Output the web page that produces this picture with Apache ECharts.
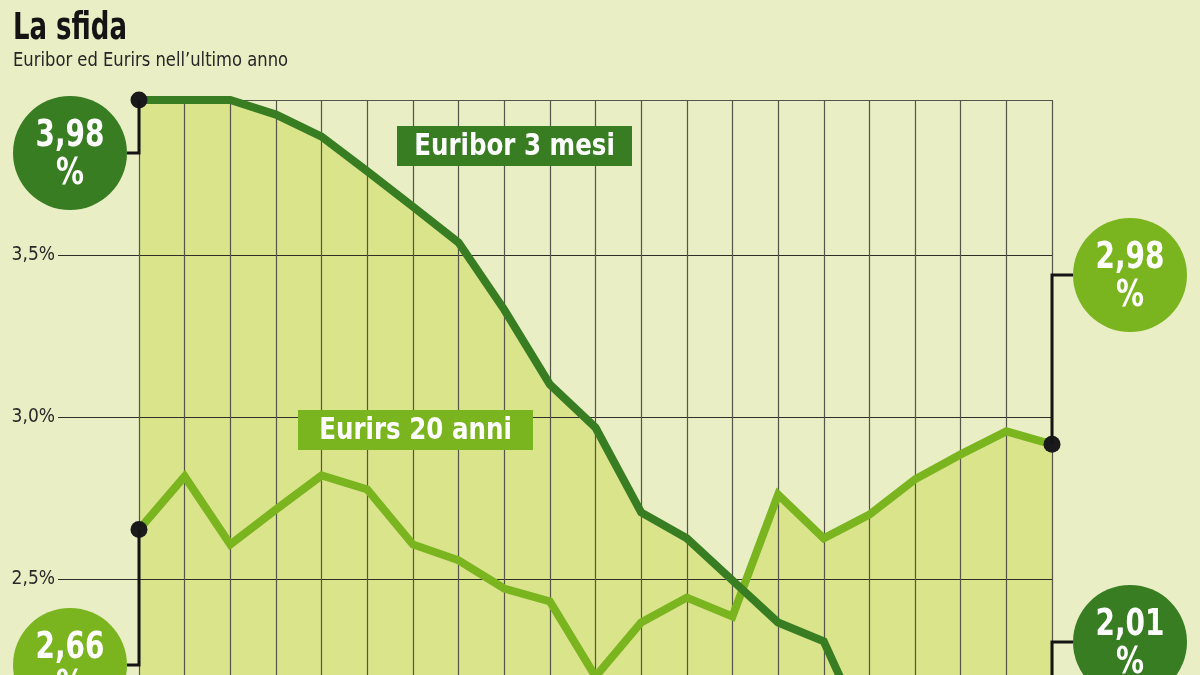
<!DOCTYPE html>
<html>
<head>
<meta charset="utf-8">
<title>La sfida</title>
<script src="https://cdn.jsdelivr.net/npm/echarts@6/dist/echarts.min.js"></script>
<style>
  html, body { margin: 0; padding: 0; background: #e9eec4; }
  #chart { width: 1200px; height: 675px; }
</style>
</head>
<body>
<div id="chart"></div>
<script>
// periodi (etichette dell'asse x, fuori dall'inquadratura)
const periods = ['1', '2', '3', '4', '5', '6', '7', '8', '9', '10', '11',
  '12', '13', '14', '15', '16', '17', '18', '19', '20', '21']
// Euribor 3 mesi (%)
const euribor = [3.98, 3.98, 3.98, 3.935, 3.867, 3.76, 3.651, 3.54, 3.333, 3.102, 2.969,
  2.707, 2.627, 2.497, 2.367, 2.309, 2.0, 2.04, 2.06, 2.03, 2.01]
// Eurirs 20 anni (%)
const eurirs = [2.654, 2.818, 2.608, 2.716, 2.821, 2.778, 2.608, 2.559, 2.472, 2.432, 2.2,
  2.367, 2.444, 2.386, 2.762, 2.627, 2.7, 2.809, 2.886, 2.957, 2.917]
// tacche asse y
const yTicks = [2.0, 2.5, 3.0, 3.5]
// etichette dei cerchi
const badgeTexts = ['3,98', '2,66', '2,98', '2,01']

const FONT = "'DejaVu Sans Condensed', 'Liberation Sans Narrow', sans-serif"
const DARK = '#397d23'
const LIGHT = '#7ab520'
const FILL = '#d9e48b'
const GRID = '#55554a'

const chart = echarts.init(document.getElementById('chart'))

const last = periods.length - 1
const dotSize = (v, p) => (p.dataIndex === 0 || p.dataIndex === last) ? 17 : 0

const option = {
  backgroundColor: '#e9eec4',
  animation: false,
  grid: { left: 139, right: 148, top: 100, bottom: 0 },
  xAxis: {
    type: 'category',
    position: 'top',
    boundaryGap: false,
    data: periods,
    z: 2,
    axisLine: { show: true, lineStyle: { color: GRID, width: 1.2 } },
    axisTick: { show: false },
    axisLabel: { show: false, interval: 0 },
    splitLine: { show: true, interval: 0, lineStyle: { color: GRID, width: 1.2 } }
  },
  yAxis: {
    type: 'value',
    // il grafico originale e' tagliato in basso
    min: 2.205,
    max: 3.98,
    z: 2,
    axisLine: { show: false },
    axisTick: {
      show: true,
      customValues: yTicks,
      length: 81,
      lineStyle: { color: '#2e2e28', width: 1.2 }
    },
    axisLabel: {
      customValues: yTicks,
      margin: 84,
      fontFamily: FONT,
      fontSize: 19,
      color: '#2a2a2a',
      formatter: v => v.toFixed(1).replace('.', ',') + '%'
    },
    splitLine: { show: true, lineStyle: { color: '#2e2e28', width: 1.2 } }
  },
  series: [
    // area sotto le due curve (unione)
    {
      type: 'line', data: euribor, z: 1, symbol: 'none',
      lineStyle: { width: 0 }, areaStyle: { color: FILL, opacity: 1 }
    },
    {
      type: 'line', data: eurirs, z: 1, symbol: 'none',
      lineStyle: { width: 0 }, areaStyle: { color: FILL, opacity: 1 }
    },
    // linee
    {
      name: 'Eurirs 20 anni', type: 'line', data: eurirs, z: 3,
      symbol: 'circle', symbolSize: dotSize, showSymbol: true,
      itemStyle: { color: '#1a1a1a' },
      lineStyle: { color: LIGHT, width: 8, join: 'miter' }
    },
    {
      name: 'Euribor 3 mesi', type: 'line', data: euribor, z: 4,
      symbol: 'circle', symbolSize: dotSize, showSymbol: true,
      itemStyle: { color: '#1a1a1a' },
      lineStyle: { color: DARK, width: 8, join: 'miter' }
    }
  ]
}

chart.setOption(option)

function px(i, v) {
  return chart.convertToPixel({ gridIndex: 0 }, [i, v])
}

const elements = []

// titolo e sottotitolo (testo compresso come nell'originale)
elements.push({
  type: 'text', x: 13, y: 29, scaleX: 0.78, z: 12,
  style: {
    text: 'La sfida', x: 0, y: 0, textVerticalAlign: 'middle',
    font: 'bold 37px ' + FONT, fill: '#141414'
  }
})
elements.push({
  type: 'text', x: 13, y: 61, scaleX: 0.91, z: 12,
  style: {
    text: 'Euribor ed Eurirs nell\u2019ultimo anno', x: 0, y: 0, textVerticalAlign: 'middle',
    font: '20px ' + FONT, fill: '#262626'
  }
})

// cerchi con i valori, collegati ai punti iniziali e finali
const R = 57
const callouts = [
  { p: px(0, euribor[0]), side: -1, cy: 153, color: DARK, text: badgeTexts[0] },
  { p: px(0, eurirs[0]), side: -1, cy: 665, color: LIGHT, text: badgeTexts[1] },
  { p: px(last, eurirs[last]), side: 1, cy: 275, color: LIGHT, text: badgeTexts[2] },
  { p: px(last, euribor[last]), side: 1, cy: 642, color: DARK, text: badgeTexts[3] }
]

callouts.forEach(c => {
  const cx = c.p[0] + c.side * (c.side < 0 ? 69 : 78)
  elements.push({
    type: 'polyline', z: 10,
    shape: { points: [[c.p[0], c.p[1]], [c.p[0], c.cy], [cx - c.side * R, c.cy]] },
    style: { stroke: '#141414', lineWidth: 3, fill: null }
  })
  elements.push({
    type: 'circle', z: 11,
    shape: { cx: cx, cy: c.cy, r: R },
    style: { fill: c.color }
  })
  elements.push({
    type: 'text', z: 12, x: cx, y: c.cy + 2, scaleX: 0.84,
    style: {
      text: c.text + '\n%', x: 0, y: 0,
      textAlign: 'center', textVerticalAlign: 'middle',
      font: 'bold 37px ' + FONT, lineHeight: 38, fill: '#ffffff'
    }
  })
})

// etichette delle serie
const tags = [
  { text: 'Euribor 3 mesi', x: 397, y: 126, w: 235, h: 40, color: DARK },
  { text: 'Eurirs 20 anni', x: 298, y: 410, w: 235, h: 40, color: LIGHT }
]
tags.forEach(t => {
  elements.push({
    type: 'rect', z: 10,
    shape: { x: t.x, y: t.y, width: t.w, height: t.h },
    style: { fill: t.color }
  })
  elements.push({
    type: 'text', z: 11, x: t.x + t.w / 2, y: t.y + t.h / 2 + 1, scaleX: 0.88,
    style: {
      text: t.text, x: 0, y: 0,
      textAlign: 'center', textVerticalAlign: 'middle',
      font: 'bold 31px ' + FONT, fill: '#ffffff'
    }
  })
})

chart.setOption({ graphic: { elements: elements } })
</script>
</body>
</html>
